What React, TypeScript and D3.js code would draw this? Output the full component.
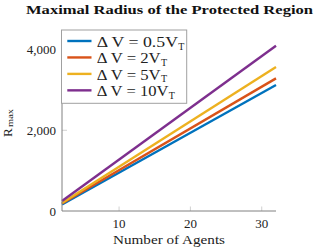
import React from 'react';
import * as d3 from 'd3';

// ---- data ----
const agents = [2, 32];
const rBlue = [160, 3119];
const rOrange = [185, 3285];
const rYellow = [200, 3564];
const rPurple = [248, 4092];
const seriesFactors = ['0.5', '2', '5', '10'];
const xTicks = [10, 20, 30];
const yTicks = [0, 2000, 4000];
const yTickLabels = ['0', '2,000', '4,000'];

// ---- styles / layout ----
const COLORS = ['#0072BD', '#D95319', '#EDB120', '#7E2F8E'];
const LEGEND_TEXT_W = [81.3, 64, 64, 71.8];
const FONT = "'Liberation Serif', 'Times New Roman', serif";
const W = 318;
const H = 252;
const M = { left: 62, right: 276, top: 30, bottom: 211 };

export default function App() {
  const x = d3.scaleLinear().domain([2, 32]).range([M.left, M.right]);
  const y = d3.scaleLinear().domain([0, 4483]).range([M.bottom, M.top]);
  const series = [rBlue, rOrange, rYellow, rPurple];
  const line = d3
    .line<[number, number]>()
    .x((d) => x(d[0]))
    .y((d) => y(d[1]));

  const legendX = 61.5;
  const legendY = 30;
  const rowH = 16.45;
  const txt = { fontFamily: FONT };

  return (
    <svg
      width={W}
      height={H}
      style={{ position: 'absolute', left: 0, top: 0, background: '#fff', fontFamily: FONT }}
    >
      {/* title */}
      <text
        x={169.5}
        y={13.5}
        textAnchor="middle"
        fontSize={13}
        fontWeight="bold"
        fill="#111"
        style={txt}
        textLength={287}
        lengthAdjust="spacingAndGlyphs"
      >
        Maximal Radius of the Protected Region
      </text>

      {/* series */}
      {series.map((vals, i) => (
        <path
          key={i}
          d={line(agents.map((a, j) => [a, vals[j]] as [number, number])) || ''}
          fill="none"
          stroke={COLORS[i]}
          strokeWidth={2.4}
        />
      ))}

      {/* ticks */}
      {xTicks.map((t) => (
        <g key={'xt' + t}>
          <line x1={x(t)} x2={x(t)} y1={M.bottom} y2={M.bottom - 4.5} stroke="#c4c4c4" strokeWidth={0.8} />
          <text x={x(t)} y={227.5} textAnchor="middle" fontSize={13} fill="#222" style={txt}>
            {t}
          </text>
        </g>
      ))}
      {yTicks.map((t, i) => (
        <g key={'yt' + t}>
          {t !== 0 && (
            <line x1={M.left} x2={M.left + 5} y1={y(t)} y2={y(t)} stroke="#c4c4c4" strokeWidth={0.8} />
          )}
          <text x={56} y={y(t)} dy="0.36em" textAnchor="end" fontSize={13} fill="#222" style={txt}>
            {yTickLabels[i]}
          </text>
        </g>
      ))}

      {/* axis lines */}
      <line x1={M.left} x2={M.left} y1={M.top} y2={M.bottom} stroke="#808080" strokeWidth={1} />
      <line x1={M.left} x2={M.right} y1={M.bottom} y2={M.bottom} stroke="#808080" strokeWidth={1} />

      {/* axis labels */}
      <text x={169} y={244} textAnchor="middle" fontSize={13.5} fill="#222" style={txt} textLength={112} lengthAdjust="spacingAndGlyphs">
        Number of Agents
      </text>
      <g transform="translate(11.5,137) rotate(-90)">
        <text x={0} y={0} fontSize={13} fill="#222" style={txt}>R</text>
        <text x={10} y={1.5} fontSize={9} fill="#222" style={txt} textLength={18} lengthAdjust="spacingAndGlyphs">
          max
        </text>
      </g>

      {/* legend */}
      <rect x={legendX} y={legendY} width={125.2} height={73.3} fill="#fff" stroke="#a0a0a0" strokeWidth={1} />
      {seriesFactors.map((f, i) => {
        const cy = 42 + i * rowH;
        const tw = LEGEND_TEXT_W[i];
        return (
          <g key={'lg' + i}>
            <line x1={67.3} x2={91.5} y1={cy - 1} y2={cy - 1} stroke={COLORS[i]} strokeWidth={2.4} />
            <text x={96.7} y={cy + 4.8} fontSize={14} fill="#222" style={txt} textLength={tw} lengthAdjust="spacingAndGlyphs">
              {`Δ V = ${f}V`}
            </text>
            <text x={96.7 + tw + 0.3} y={cy + 7.5} fontSize={10} fill="#222" style={txt}>
              T
            </text>
          </g>
        );
      })}
    </svg>
  );
}
